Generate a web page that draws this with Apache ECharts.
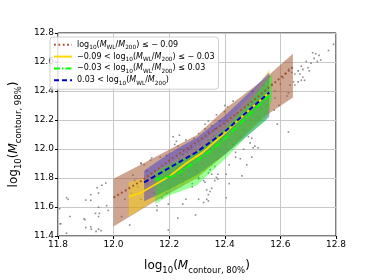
<!DOCTYPE html>
<html><head><meta charset="utf-8">
<script src="https://cdn.jsdelivr.net/npm/echarts@6/dist/echarts.min.js"></script>
<style>html,body{margin:0;padding:0;background:#fff}#c{width:374px;height:280px}</style>
</head><body><div id="c"></div>
<script>
const xTicks = [11.8, 12.0, 12.2, 12.4, 12.6, 12.8];
const yTicks = [11.4, 11.6, 11.8, 12.0, 12.2, 12.4, 12.6, 12.8];

const lineBrown = [[12.0,11.665],[12.1,11.78],[12.2,11.92],[12.3,12.05],[12.4,12.18],[12.5,12.33],[12.6,12.49],[12.645,12.565]];
const lineYellow = [[12.055,11.67],[12.1,11.70],[12.2,11.81],[12.26,11.9],[12.32,11.975],[12.4,12.11],[12.5,12.29],[12.56,12.39]];
const lineGreen = [[12.15,11.79],[12.22,11.815],[12.27,11.88],[12.35,11.99],[12.4,12.07],[12.5,12.26],[12.56,12.37]];
const lineBlue = [[12.11,11.77],[12.2,11.87],[12.3,11.98],[12.4,12.12],[12.5,12.29],[12.56,12.39]];

const bandBrownX = [12.0, 12.14, 12.3, 12.41, 12.54, 12.645];
const bandBrownLo = [11.465, 11.63, 11.8, 11.98, 12.22, 12.355];
const bandBrownHi = [11.795, 11.935, 12.097, 12.29, 12.48, 12.657];

const bandYellowX = [12.055, 12.11, 12.2, 12.3, 12.4, 12.5, 12.56];
const bandYellowLo = [11.535, 11.6, 11.71, 11.8, 11.96, 12.14, 12.24];
const bandYellowHi = [11.77, 11.80, 11.9, 12.02, 12.18, 12.38, 12.55];

const bandGreenX = [12.15, 12.2, 12.3, 12.4, 12.48, 12.55, 12.57];
const bandGreenLo = [11.62, 11.68, 11.75, 11.93, 12.09, 12.2, 12.35];
const bandGreenHi = [11.84, 11.89, 11.98, 12.14, 12.3, 12.47, 12.515];

const bandBlueX = [12.11, 12.2, 12.3, 12.4, 12.5, 12.56];
const bandBlueLo = [11.64, 11.72, 11.82, 11.96, 12.12, 12.22];
const bandBlueHi = [11.85, 11.97, 12.08, 12.23, 12.41, 12.53];

const scatterPts = [
[12.137,11.938],[12.099,11.901],[11.972,11.765],[11.958,11.75],[11.941,11.733],[11.946,11.696],[11.918,11.685],
[11.831,11.664],[11.837,11.653],[11.9,11.648],[11.918,11.646],[11.806,11.588],[11.946,11.599],[11.975,11.609],
[11.981,11.577],[11.935,11.556],[11.946,11.534],[11.843,11.534],[11.894,11.519],[11.808,11.484],[11.9,11.458],
[11.918,11.463],[11.946,11.447],[11.831,11.419],[11.81,11.484],[11.897,11.512],[11.92,11.447],[11.937,11.432],
[11.955,11.437],[11.949,11.556],[12.058,11.476],[12.029,11.534],[12.156,11.577],[12.197,11.441],[12.231,11.523],
[12.295,11.545],
[12.485,12.085],[12.497,12.074],[12.508,12.02],[12.52,12.009],[12.439,11.944],[12.497,11.944],[12.479,11.891],
[12.462,11.815],[12.416,11.891],[12.405,11.826],[12.416,11.761],[12.364,11.88],[12.347,11.858],[12.353,11.826],
[12.37,11.804],[12.375,11.793],[12.341,11.836],[12.306,11.793],[12.324,11.782],[12.329,11.771],[12.283,11.761],
[12.335,11.718],[12.347,11.707],[12.26,11.653],[12.335,11.653],[12.341,11.642],[12.405,11.664],
[12.773,12.679],[12.716,12.664],[12.727,12.657],[12.739,12.646],[12.745,12.614],[12.721,12.625],[12.693,12.604],
[12.71,12.592],[12.733,12.604],[12.675,12.571],[12.681,12.549],[12.699,12.56],[12.704,12.539],[12.664,12.539],
[12.67,12.517],[12.652,12.517],[12.641,12.528],[12.681,12.495],[12.675,12.474],[12.664,12.463],[12.687,12.474],
[12.647,12.463],[12.652,12.441],[12.635,12.441],[12.629,12.387],[12.624,12.366],[12.595,12.301],[12.791,12.722],
[12.629,12.117],[12.578,12.268],[12.589,12.171],
[12.099,11.901],[12.11,11.891],[12.22,12.031],[12.231,12.02],[12.329,12.171],[12.341,12.193],[12.168,11.944],
[12.191,11.955],[12.133,11.923],[12.191,11.696],[12.174,11.664],[12.197,11.62],[12.156,11.609],[12.249,11.62],
[12.306,11.653],[12.324,11.631],[12.341,11.685],[12.353,11.729],[12.364,11.782],[12.375,11.826],
[12.37,12.236],[12.381,12.193],[12.353,12.16],[12.364,12.139],[12.329,12.139],[12.341,12.117],[12.399,12.258],
[12.41,12.29],[12.306,12.106],[12.289,12.074],[12.26,12.063],[12.237,12.095],[12.214,12.085],[12.226,12.053],
[12.491,12.042],[12.468,11.998],[12.439,11.977],[12.502,12.009],[12.456,11.933],
[12.087,11.739],[12.064,11.696],[12.041,11.653],[12.122,11.761],[12.145,11.696],[12.162,11.804],[12.202,11.826],
[12.226,11.869],[12.249,11.771],[12.272,11.847],[12.295,11.891],[12.318,11.933],[12.341,11.977],[12.364,12.02],
[12.387,12.063],[12.283,11.739],[12.306,11.804],[12.329,11.858],[12.353,11.891],[12.375,11.933],[12.133,11.804],
[12.099,11.653],[12.076,11.782],[12.18,11.858],[12.237,11.933],[12.266,11.977],[12.295,11.998],
[12.42,12.15],[12.45,12.2],[12.48,12.25],[12.5,12.3],[12.52,12.22],[12.55,12.35],[12.44,12.1],[12.47,12.13],
[12.53,12.28],[12.58,12.4],[12.6,12.45],[12.56,12.5],[12.62,12.52],[12.4,12.3],[12.43,12.33],[12.5,12.4],[12.54,12.44],
[12.25,11.96],[12.28,12.01],[12.31,12.03],[12.34,12.06],[12.36,12.09],[12.39,12.12],[12.42,12.06],[12.45,12.16],
[12.28,11.91],[12.32,11.9],[12.38,11.98],[12.43,12.03],[12.46,12.08],[12.21,11.9],[12.17,11.75],[12.24,11.82],
[12.3,11.85],[12.52,12.34],[12.49,12.2],[12.55,12.3],[12.58,12.35],[12.57,12.45],[12.61,12.49],[12.63,12.55],
[12.12,11.85],[12.07,11.82],[12.19,11.79],[12.33,12.01],[12.27,12.0],[12.44,12.24]
];

const FONT = 'DejaVu Sans';
const legendLabels = {
  a: '{n|log}{s|10}{n|(}{i|M}{s|WL}{n|/}{i|M}{s|200}{n|) ≤ − 0.09}',
  b: '{n|−0.09 < log}{s|10}{n|(}{i|M}{s|WL}{n|/}{i|M}{s|200}{n|) ≤ − 0.03}',
  c: '{n|−0.03 < log}{s|10}{n|(}{i|M}{s|WL}{n|/}{i|M}{s|200}{n|) ≤ 0.03}',
  d: '{n|0.03 < log}{s|10}{n|(}{i|M}{s|WL}{n|/}{i|M}{s|200}{n|)}'
};

function bandSeries(id, xs, lo, hi, color, z) {
  const data = xs.map((x, i) => [x, lo[i], hi[i]]);
  return {
    type:'custom', name:id, data:data, silent:true, z:z,
    renderItem:function(params, api){
      if (params.dataIndex !== 0) return null;
      const pts = [];
      for (let i = 0; i < data.length; i++) pts.push(api.coord([data[i][0], data[i][2]]));
      for (let i = data.length - 1; i >= 0; i--) pts.push(api.coord([data[i][0], data[i][1]]));
      return {type:'polygon', shape:{points:pts}, style:{fill:color, stroke:null}};
    }
  };
}

const richAxis = {
  n:{fontSize:12, fontFamily:FONT, color:'#000', lineHeight:18, verticalAlign:'middle'},
  i:{fontSize:12, fontFamily:FONT, fontStyle:'italic', color:'#000', lineHeight:18, verticalAlign:'middle'},
  s:{fontSize:8.5, fontFamily:FONT, color:'#000', lineHeight:18, verticalAlign:'bottom'}
};
const richLegend = {
  n:{fontSize:8, fontFamily:FONT, color:'#000', lineHeight:12, verticalAlign:'middle'},
  i:{fontSize:8, fontFamily:FONT, fontStyle:'italic', color:'#000', lineHeight:12, verticalAlign:'middle'},
  s:{fontSize:5.8, fontFamily:FONT, color:'#000', lineHeight:12, verticalAlign:'bottom'}
};

const chart = echarts.init(document.getElementById('c'), null, {renderer:'canvas'});
chart.setOption({
  animation:false,
  backgroundColor:'#fff',
  grid:{left:47, right:38, top:33, bottom:31, show:true, borderColor:'#000', borderWidth:1},
  xAxis:{type:'value', min:11.8, max:12.8, interval:0.2,
    axisLine:{show:false}, axisTick:{show:true, length:3, lineStyle:{color:'#000'}},
    splitLine:{show:true, lineStyle:{color:'#c8c8c8', width:1}},
    axisLabel:{fontSize:9, fontFamily:FONT, color:'#000', margin:4, formatter:v=>v.toFixed(1)},
    name:'{n|log}{s|10}{n|(}{i|M}{s|contour, 80%}{n|)}', nameLocation:'middle', nameGap:21,
    nameTextStyle:{rich:richAxis}},
  yAxis:{type:'value', min:11.4, max:12.8, interval:0.2,
    axisLine:{show:false}, axisTick:{show:true, length:3, lineStyle:{color:'#000'}},
    splitLine:{show:true, lineStyle:{color:'#c8c8c8', width:1}},
    axisLabel:{fontSize:9, fontFamily:FONT, color:'#000', margin:4, formatter:v=>v.toFixed(1)},
    name:'{n|log}{s|10}{n|(}{i|M}{s|contour, 98%}{n|)}', nameLocation:'middle', nameGap:31, nameRotate:90,
    nameTextStyle:{rich:richAxis}},
  legend:{show:true, orient:'vertical', left:50, top:37, data:['a','b','c','d'],
    backgroundColor:'rgba(255,255,255,0.8)', borderColor:'#d0d0d0', borderWidth:1, borderRadius:3,
    padding:[3,4,3,3], itemGap:1, itemWidth:18, itemHeight:12,
    itemStyle:{color:'rgba(0,0,0,0)', borderColor:'rgba(0,0,0,0)', borderWidth:0, opacity:0},
    formatter:name=>legendLabels[name],
    textStyle:{rich:richLegend}},
  series:[
    {type:'scatter', name:'pts', data:scatterPts, symbol:'rect', symbolSize:1.6, silent:true,
      itemStyle:{color:'#6e6e6e', opacity:0.8}, z:1},
    bandSeries('bb', bandBrownX, bandBrownLo, bandBrownHi, 'rgba(160,82,45,0.52)', 2),
    bandSeries('by', bandYellowX, bandYellowLo, bandYellowHi, 'rgba(255,215,0,0.45)', 2),
    bandSeries('bl', bandBlueX, bandBlueLo, bandBlueHi, 'rgba(40,40,220,0.42)', 2),
    bandSeries('bg', bandGreenX, bandGreenLo, bandGreenHi, 'rgba(0,255,0,0.4)', 2),
    {type:'line', name:'a', data:lineBrown, symbol:'none', z:5, silent:true,
      itemStyle:{color:'#a0522d'}, lineStyle:{color:'#a0522d', width:2, type:[1.8,2.6]}},
    {type:'line', name:'b', data:lineYellow, symbol:'none', z:5, silent:true,
      itemStyle:{color:'#ffd700'}, lineStyle:{color:'#ffd700', width:1.8, type:'solid'}},
    {type:'line', name:'d', data:lineBlue, symbol:'none', z:6, silent:true,
      itemStyle:{color:'#0000cd'}, lineStyle:{color:'#0000cd', width:2, type:[5,3]}},
    {type:'line', name:'c', data:lineGreen, symbol:'none', z:7, silent:true,
      itemStyle:{color:'#00ff00'}, lineStyle:{color:'#00ff00', width:2, type:[6,2,1.5,2]}}
  ]
});
</script></body></html>
